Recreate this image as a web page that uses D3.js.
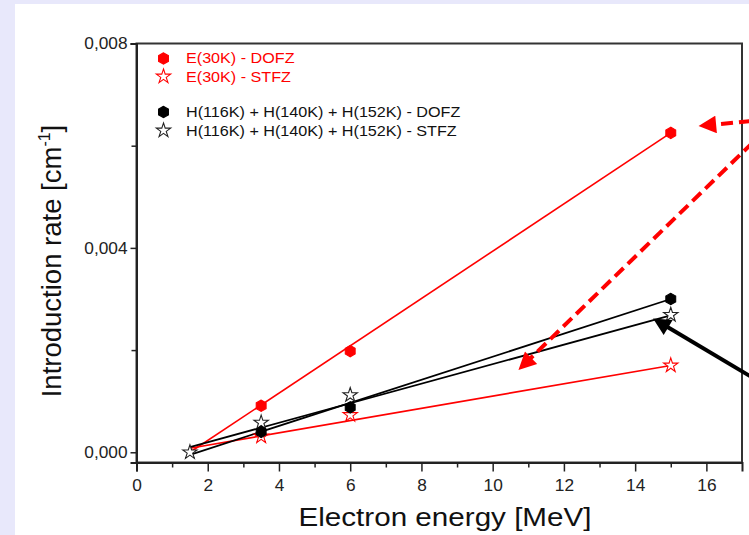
<!DOCTYPE html>
<html>
<head>
<meta charset="utf-8">
<script src="https://cdn.jsdelivr.net/npm/d3@7"></script>
<style>
  html, body { margin: 0; padding: 0; background: #e8e8fb; }
  svg { display: block; }
  text { font-family: "Liberation Sans", Arial, sans-serif; }
</style>
</head>
<body>
<svg id="chart" width="749" height="535"></svg>
<script>
// Introduction rates of E(30K) and H(116K)+H(140K)+H(152K) defects vs electron energy
const energyE = [3.5, 6, 15];
const eDofz = [0.00091, 0.00198, 0.00625];
const eStfz = [0.00031, 0.00073, 0.00170];

const energyHDofz = [3.5, 6, 15];
const hDofz = [0.00040, 0.00088, 0.00300];
const energyHStfz = [1.5, 3.5, 6, 15];
const hStfz = [0.00000, 0.00058, 0.00112, 0.00269];

// linear fits, evaluated at the ends of the energy range
const fitEnergy = [1.5, 15];
const eDofzFit = [0.00000, 0.00625];
const eStfzFit = [0.00008, 0.00170];
const hDofzFit = [-0.00005, 0.00300];
const hStfzFit = [0.00010, 0.00268];

const xTicks = [0, 2, 4, 6, 8, 10, 12, 14, 16];
const xMinorTicks = [1, 3, 5, 7, 9, 11, 13, 15];
const yTicks = [0, 0.004, 0.008];
const yTickLabels = ["0,000", "0,004", "0,008"];
const yMinorTicks = [0.002, 0.006];

const legendLabels = [
  "E(30K) - DOFZ",
  "E(30K) - STFZ",
  "H(116K) + H(140K) + H(152K) - DOFZ",
  "H(116K) + H(140K) + H(152K) - STFZ"
];

// annotation arrows, in data coordinates: [x0, y0, x1, y1]
const arrowRed1 = [17.25, 0.00648, 15.72, 0.00638];
const arrowRed2 = [17.3, 0.00606, 10.68, 0.00158];
const arrowBlack = [17.3, 0.00146, 14.45, 0.00264];

const RED = "#ff0000";
const BLACK = "#000000";

const svg = d3.select("#chart");

// white slide panel
svg.append("rect").attr("x", 15).attr("y", 4).attr("width", 734).attr("height", 531).attr("fill", "#ffffff");

const x = d3.scaleLinear().domain([0, 17]).range([136.5, 742]);
const y = d3.scaleLinear().domain([-0.0002, 0.008]).range([462.5, 43.5]);

// horizontally stretched text helper
function stretch(sel, sx) {
  sel.each(function () {
    const t = d3.select(this);
    const px = +t.attr("x");
    t.attr("x", px / sx).attr("transform", `scale(${sx},1)`);
  });
  return sel;
}

// hexagon symbol
const hexagon = {
  draw(ctx, size) {
    const r = Math.sqrt(size / (1.5 * Math.sqrt(3)));
    for (let i = 0; i < 6; i++) {
      const a = Math.PI / 2 + i * Math.PI / 3;
      const px = r * Math.cos(a), py = -r * Math.sin(a);
      if (i === 0) ctx.moveTo(px, py); else ctx.lineTo(px, py);
    }
    ctx.closePath();
  }
};
const hexPath = d3.symbol().type(hexagon).size(84)();
const starPath = d3.symbol().type(d3.symbolStar).size(64)();

// frame
const frame = svg.append("g");
frame.append("rect")
  .attr("x", x(0)).attr("y", y(0.008))
  .attr("width", x(17) - x(0)).attr("height", y(-0.0002) - y(0.008))
  .attr("fill", "none").attr("stroke", "#333").attr("stroke-width", 2);

// x axis
const xAxis = svg.append("g").attr("transform", `translate(0,${y(-0.0002)})`)
  .call(d3.axisBottom(x).tickValues(xTicks).tickSize(9).tickFormat(d3.format("d")));
xAxis.select(".domain").attr("stroke", "#222").attr("stroke-width", 2);
xAxis.selectAll(".tick line").attr("stroke", "#222").attr("stroke-width", 1.5);
xAxis.selectAll(".tick text").attr("font-size", 16).attr("fill", "#222").attr("dy", null).attr("y", 29)
  .attr("font-family", "Liberation Sans, Arial, sans-serif");
stretch(xAxis.selectAll(".tick text"), 1.08);
const xMinor = svg.append("g").attr("transform", `translate(0,${y(-0.0002)})`)
  .call(d3.axisBottom(x).tickValues(xMinorTicks).tickSize(5).tickFormat(""));
xMinor.select(".domain").remove();
xMinor.selectAll(".tick line").attr("stroke", "#222").attr("stroke-width", 1.5);

// y axis
const yAxis = svg.append("g").attr("transform", `translate(${x(0)},0)`)
  .call(d3.axisLeft(y).tickValues(yTicks).tickSize(6).tickPadding(3)
    .tickFormat((d, i) => yTickLabels[i]));
yAxis.select(".domain").attr("stroke", "#222").attr("stroke-width", 2);
yAxis.selectAll(".tick line").attr("stroke", "#222").attr("stroke-width", 1.5);
yAxis.selectAll(".tick text").attr("font-size", 16).attr("fill", "#222")
  .attr("font-family", "Liberation Sans, Arial, sans-serif");
stretch(yAxis.selectAll(".tick text"), 1.08);
const yMinor = svg.append("g").attr("transform", `translate(${x(0)},0)`)
  .call(d3.axisLeft(y).tickValues(yMinorTicks).tickSize(5).tickFormat(""));
yMinor.select(".domain").remove();
yMinor.selectAll(".tick line").attr("stroke", "#222").attr("stroke-width", 1.5);

// axis titles
const xTitle = svg.append("text")
  .attr("x", 445).attr("y", 526).attr("text-anchor", "middle")
  .attr("font-size", 26).attr("fill", "#111").text("Electron energy [MeV]");
stretch(xTitle, 1.14);

const yTitle = svg.append("text")
  .attr("transform", "translate(61,261) rotate(-90)")
  .attr("text-anchor", "middle").attr("font-size", 27.5).attr("fill", "#111");
yTitle.append("tspan").text("Introduction rate [cm");
yTitle.append("tspan").attr("font-size", 16).attr("dy", -11).text("-1");
yTitle.append("tspan").attr("dy", 11).text("]");

// fit lines
const line = d3.line().x(d => x(d[0])).y(d => y(d[1]));
const fits = [
  { v: eDofzFit, c: RED, w: 1.6 },
  { v: eStfzFit, c: RED, w: 1.6 },
  { v: hDofzFit, c: BLACK, w: 1.8 },
  { v: hStfzFit, c: BLACK, w: 1.8 }
];
svg.append("g").selectAll("path").data(fits).join("path")
  .attr("d", f => line(d3.zip(fitEnergy, f.v)))
  .attr("fill", "none").attr("stroke", f => f.c).attr("stroke-width", f => f.w);

// data points
function points(xs, ys, path, fill, stroke) {
  svg.append("g").selectAll("path").data(d3.zip(xs, ys)).join("path")
    .attr("d", path)
    .attr("transform", d => `translate(${x(d[0])},${y(d[1])})`)
    .attr("fill", fill).attr("stroke", stroke).attr("stroke-width", 1.1);
}
points(energyE, eStfz, starPath, "#fff", RED);
points(energyE, eDofz, hexPath, RED, RED);
points(energyHStfz, hStfz, starPath, "#fff", "#222");
points(energyHDofz, hDofz, hexPath, BLACK, BLACK);

// legend
const legendRows = [
  { label: legendLabels[0], path: hexPath, fill: RED, stroke: RED, color: RED, sy: 58.5, ty: 63.5 },
  { label: legendLabels[1], path: starPath, fill: "#fff", stroke: RED, color: RED, sy: 76.5, ty: 82 },
  { label: legendLabels[2], path: hexPath, fill: BLACK, stroke: BLACK, color: "#111", sy: 112, ty: 117.5 },
  { label: legendLabels[3], path: starPath, fill: "#fff", stroke: "#222", color: "#111", sy: 130.5, ty: 136 }
];
const lg = svg.append("g");
lg.selectAll("path").data(legendRows).join("path")
  .attr("d", d => d.path)
  .attr("transform", d => `translate(163.5,${d.sy})`)
  .attr("fill", d => d.fill).attr("stroke", d => d.stroke).attr("stroke-width", 1.1);
const lt = lg.selectAll("text").data(legendRows).join("text")
  .attr("x", 186).attr("y", d => d.ty)
  .attr("font-size", 15.4).attr("fill", d => d.color).text(d => d.label);
stretch(lt, 1.05);

// annotation arrows
const defs = svg.append("defs");
function marker(id, color) {
  defs.append("marker").attr("id", id)
    .attr("viewBox", "0 0 10 10").attr("refX", 1).attr("refY", 5)
    .attr("markerWidth", 5).attr("markerHeight", 4.4).attr("markerUnits", "strokeWidth")
    .attr("orient", "auto")
    .append("path").attr("d", "M0,0 L10,5 L0,10 Z").attr("fill", color);
}
marker("headRed", RED);
marker("headBlack", BLACK);

function arrow(a, color, dash, id) {
  const x0 = x(a[0]), y0 = y(a[1]), x1 = x(a[2]), y1 = y(a[3]);
  const len = Math.hypot(x1 - x0, y1 - y0);
  const back = 18;
  const ex = x1 - (x1 - x0) / len * back, ey = y1 - (y1 - y0) / len * back;
  svg.append("line")
    .attr("x1", x0).attr("y1", y0).attr("x2", ex).attr("y2", ey)
    .attr("stroke", color).attr("stroke-width", 4)
    .attr("stroke-dasharray", dash)
    .attr("marker-end", `url(#${id})`);
}
arrow(arrowRed1, RED, "12,6", "headRed");
arrow(arrowRed2, RED, "12,6", "headRed");
arrow(arrowBlack, BLACK, null, "headBlack");
</script>
</body>
</html>
